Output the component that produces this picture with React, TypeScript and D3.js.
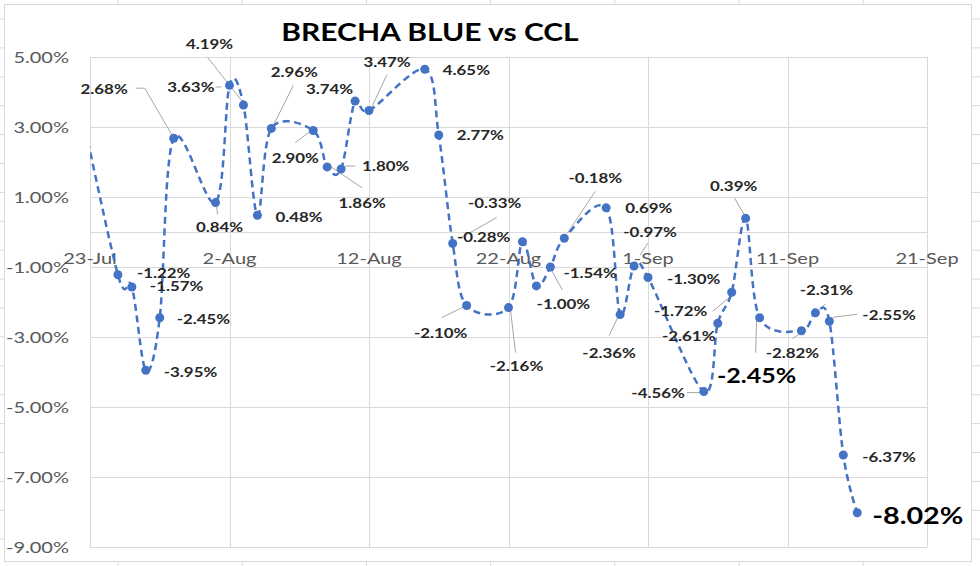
import React from 'react';
import * as d3 from 'd3';

// daily gap (%) between blue dollar and CCL, 2022
const dates = [
  '2022-07-22', '2022-07-25', '2022-07-26', '2022-07-27', '2022-07-28', '2022-07-29',
  '2022-08-01', '2022-08-02', '2022-08-03', '2022-08-04', '2022-08-05',
  '2022-08-08', '2022-08-09', '2022-08-10', '2022-08-11', '2022-08-12',
  '2022-08-16', '2022-08-17', '2022-08-18', '2022-08-19',
  '2022-08-22', '2022-08-23', '2022-08-24', '2022-08-25', '2022-08-26',
  '2022-08-29', '2022-08-30', '2022-08-31', '2022-09-01',
  '2022-09-05', '2022-09-06', '2022-09-07', '2022-09-08', '2022-09-09',
  '2022-09-12', '2022-09-13', '2022-09-14', '2022-09-15', '2022-09-16',
];
const values = [
  4.2, -1.22, -1.57, -3.95, -2.45, 2.68,
  0.84, 4.19, 3.63, 0.48, 2.96,
  2.9, 1.86, 1.8, 3.74, 3.47,
  4.65, 2.77, -0.33, -2.1,
  -2.16, -0.28, -1.54, -1.0, -0.18,
  0.69, -2.36, -0.97, -1.3,
  -4.56, -2.61, -1.72, 0.39, -2.45,
  -2.82, -2.31, -2.55, -6.37, -8.02,
];
const xTickDates = ['2022-07-23', '2022-08-02', '2022-08-12', '2022-08-22', '2022-09-01', '2022-09-11', '2022-09-21'];
const yTicks = [5, 3, 1, -1, -3, -5, -7, -9];

type Spot = { dx: number; dy: number; anchor: string; leader?: [number, number][]; size?: number } | null;

// where each data label sits relative to its marker (as dragged in the original)
const spots: Spot[] = [
  null,
  { dx: 19, dy: -2, anchor: 'start' },
  { dx: 18, dy: -1, anchor: 'start' },
  { dx: 18, dy: 1, anchor: 'start' },
  { dx: 17, dy: 1, anchor: 'start' },
  { dx: -46, dy: -50, anchor: 'end', leader: [[-38, -50], [-29, -50], [-1, -2]] },
  { dx: 4, dy: 24, anchor: 'middle', leader: [[1, 4], [2, 12]] },
  { dx: -20, dy: -42, anchor: 'middle', leader: [[-22, -28], [12, 15]] },
  { dx: -29, dy: -18, anchor: 'end', leader: [[-28, -18], [-22, -18]] },
  { dx: 18, dy: 1, anchor: 'start' },
  { dx: 23, dy: -57, anchor: 'middle', leader: [[22, -43], [1, -1]] },
  { dx: -18, dy: 27, anchor: 'middle', leader: [[-18, 12], [-3, 1]] },
  { dx: 35, dy: 36, anchor: 'middle', leader: [[1, -2], [35, 21]] },
  { dx: 21, dy: -3, anchor: 'start', leader: [[4, -3], [14, -3]] },
  { dx: -2, dy: -12, anchor: 'end' },
  { dx: 18, dy: -49, anchor: 'middle', leader: [[18, -36], [3, -4]] },
  { dx: 18, dy: 0, anchor: 'start' },
  { dx: 18, dy: 0, anchor: 'start' },
  { dx: 42, dy: -41, anchor: 'middle', leader: [[44, -26], [7, -5]] },
  { dx: -26, dy: 27, anchor: 'middle', leader: [[-25, 12], [-2, 1]] },
  { dx: 8, dy: 58, anchor: 'middle', leader: [[2, 2], [7, 45]] },
  { dx: -12, dy: -5, anchor: 'end' },
  { dx: 27, dy: -13, anchor: 'start' },
  { dx: 13, dy: 37, anchor: 'middle', leader: [[12, 23], [0, 1]] },
  { dx: 31, dy: -61, anchor: 'middle', leader: [[31, -47], [3, -5]] },
  { dx: 19, dy: 0, anchor: 'start' },
  { dx: -11, dy: 38, anchor: 'middle', leader: [[-11, 21], [-1, 0]] },
  { dx: 16, dy: -34, anchor: 'middle', leader: [[14, -23], [6, -11]] },
  { dx: 19, dy: 1, anchor: 'start' },
  { dx: -19, dy: 1, anchor: 'end', leader: [[-17, 1], [-2, 1]] },
  { dx: -29, dy: 12, anchor: 'middle' },
  { dx: -51, dy: 18, anchor: 'middle', leader: [[-19, 19], [-2, 5]] },
  { dx: -12, dy: -33, anchor: 'middle', leader: [[-11, -20], [-1, -3]] },
  { dx: -3, dy: 58, anchor: 'middle', leader: [[-3, 2], [-4, 35]], size: 20 },
  { dx: -9, dy: 22, anchor: 'middle', leader: [[-9, 8], [0, 2]] },
  { dx: 11, dy: -23, anchor: 'middle', leader: [[10, -9], [2, -1]] },
  { dx: 33, dy: -7, anchor: 'start', leader: [[28, -7], [4, -4], [1, 0]] },
  { dx: 19, dy: 2, anchor: 'start' },
  { dx: 15, dy: 2, anchor: 'start', size: 23 },
];

const W = 980;
const H = 566;
const SX = 1.25; // the original screenshot is stretched sideways
const FONT = 'Lato, Carlito, sans-serif';
const BLUE = '#4472C4';
const GRID = '#d9d9d9';

const parse = d3.utcParse('%Y-%m-%d');

export default function App() {
  const x = d3.scaleUtc()
    .domain([parse('2022-07-23')!, parse('2022-09-21')!])
    .range([90, 927]);
  const y = d3.scaleLinear().domain([-9, 5]).range([547, 57]);

  const pts = dates.map((d, i) => ({ x: x(parse(d)!), y: y(values[i]), v: values[i] }));
  const line = d3.line<{ x: number; y: number }>()
    .x(d => d.x)
    .y(d => d.y)
    .curve(d3.curveCardinal.tension(0));

  const fmt = (v: number) => `${v.toFixed(2)}%`;

  // spreadsheet cells peeking out around the chart
  const cols = d3.range(118, W, 124.2);
  const rows = d3.range(19, H, 28.9);

  return (
    <svg width={W} height={H} style={{ position: 'absolute', left: 0, top: 0, background: '#fff' }}>
      <defs>
        <clipPath id="plot">
          <rect x={90} y={0} width={837} height={H} />
        </clipPath>
      </defs>
      <g stroke="#dadada" strokeWidth={1}>
        {cols.map(c => <line key={'c' + c} x1={c} x2={c} y1={0} y2={H} />)}
        {rows.map(r => <line key={'r' + r} x1={0} x2={W} y1={r} y2={r} />)}
      </g>
      <rect x={4.5} y={4.5} width={967} height={557} fill="#fff" stroke={GRID} />

      <text transform={`translate(430,41) scale(${SX},1)`} textAnchor="middle"
        fontFamily={FONT} fontWeight={700} fontSize={24} fill="#000">BRECHA BLUE vs CCL</text>

      {/* gridlines */}
      <g stroke={GRID} strokeWidth={1}>
        {yTicks.map(t => <line key={t} x1={90} x2={927} y1={Math.round(y(t)) + 0.5} y2={Math.round(y(t)) + 0.5} />)}
        {xTickDates.map(d => {
          const xx = Math.round(x(parse(d)!)) + 0.5;
          return <line key={d} x1={xx} x2={xx} y1={57} y2={547} />;
        })}
        <line x1={90} x2={927} y1={Math.round(y(0)) + 0.5} y2={Math.round(y(0)) + 0.5} />
      </g>

      {/* axis labels */}
      <g fontFamily={FONT} fontSize={16} fill="#595959">
        {yTicks.map(t => (
          <text key={t} transform={`translate(69,${y(t)}) scale(${SX},1)`} textAnchor="end" dominantBaseline="central">
            {fmt(t)}
          </text>
        ))}
        {xTickDates.map(d => (
          <text key={d} transform={`translate(${x(parse(d)!)},${y(0) + 26}) scale(${SX},1)`} textAnchor="middle" dominantBaseline="central">
            {d3.utcFormat('%-d-%b')(parse(d)!)}
          </text>
        ))}
      </g>

      {/* leader lines */}
      <g stroke="#a6a6a6" strokeWidth={1} fill="none">
        {pts.map((p, i) => {
          const s = spots[i];
          if (!s || !s.leader) return null;
          return <polyline key={i} points={s.leader.map(([a, b]) => `${p.x + a},${p.y + b}`).join(' ')} />;
        })}
      </g>

      <path d={line(pts) ?? ''} fill="none" stroke={BLUE} strokeWidth={2.5}
        strokeDasharray="7 4.5" clipPath="url(#plot)" />
      {pts.map((p, i) => (i === 0 ? null : <circle key={i} cx={p.x} cy={p.y} r={4.5} fill={BLUE} />))}

      {/* data labels */}
      <g fontFamily={FONT} fontWeight={700} fill="#262626">
        {pts.map((p, i) => {
          const s = spots[i];
          if (!s) return null;
          return (
            <text key={i} transform={`translate(${p.x + s.dx},${p.y + s.dy}) scale(${SX},1)`}
              textAnchor={s.anchor} dominantBaseline="central" fontSize={s.size ?? 13.5}
              fill={s.size ? '#000' : '#262626'}>
              {fmt(p.v)}
            </text>
          );
        })}
      </g>
    </svg>
  );
}
